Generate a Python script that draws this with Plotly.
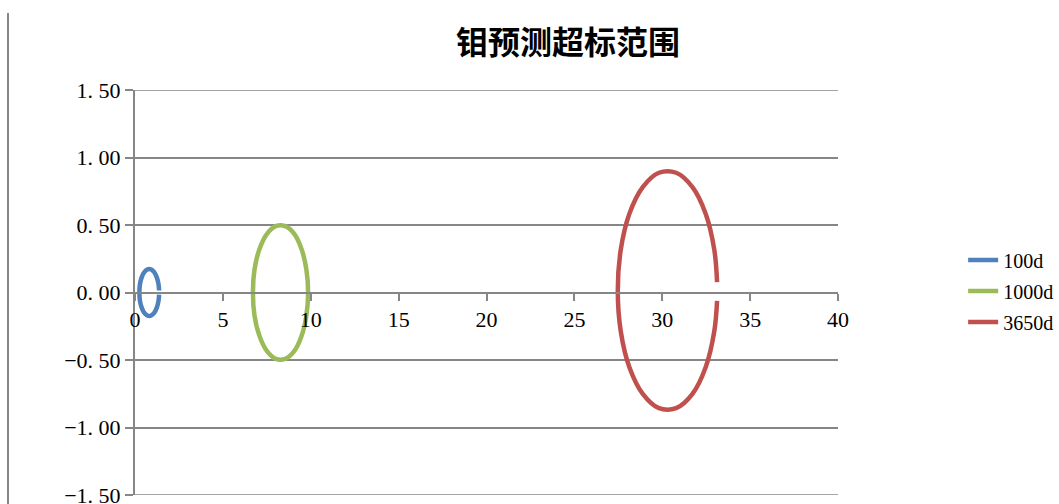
import plotly.graph_objects as go

# Outline points of each exceedance zone (distance, offset)
x_100d = [1.37, 1.34, 1.24, 1.09, 0.91, 0.71, 0.53, 0.38, 0.28, 0.25,
          0.28, 0.38, 0.53, 0.71, 0.91, 1.09, 1.24, 1.34, 1.37]
y_100d = [0.015, 0.060, 0.112, 0.151, 0.171, 0.171, 0.151, 0.112, 0.060, 0.0,
          -0.060, -0.112, -0.151, -0.171, -0.171, -0.151, -0.112, -0.060, -0.015]

x_1000d = [9.85, 9.75, 9.48, 9.07, 8.55, 8.01, 7.50, 7.08, 6.80, 6.71,
           6.80, 7.08, 7.50, 8.01, 8.55, 9.07, 9.48, 9.75, 9.85]
y_1000d = [0.0, 0.171, 0.321, 0.433, 0.492, 0.492, 0.433, 0.321, 0.171, 0.0,
           -0.171, -0.321, -0.433, -0.492, -0.492, -0.433, -0.321, -0.171, 0.0]

x_3650d = [33.12, 32.96, 32.47, 31.72, 30.79, 29.81, 28.89, 28.13, 27.64, 27.47,
           27.64, 28.13, 28.89, 29.81, 30.79, 31.72, 32.47, 32.96, 33.12]
y_3650d = [0.077, 0.318, 0.584, 0.781, 0.887, 0.887, 0.781, 0.584, 0.318, 0.015,
           -0.288, -0.554, -0.751, -0.857, -0.857, -0.751, -0.554, -0.288, -0.062]

series_names = ["100d", "1000d", "3650d"]
series_colors = ["#4F81BD", "#9BBB59", "#C0504D"]

x_ticks = [0, 5, 10, 15, 20, 25, 30, 35, 40]
y_ticks = [-1.5, -1.0, -0.5, 0.0, 0.5, 1.0, 1.5]
y_tick_text = ["\u22121. 50", "\u22121. 00", "\u22120. 50", "0. 00", "0. 50", "1. 00", "1. 50"]

title_text = "钼预测超标范围"

W, H = 1059, 504
L, R, T, B = 135, 221, 90, 9
AXIS_GRAY = "#868686"
TICK_FONT = dict(family="Liberation Serif", size=22, color="#000000")

fig = go.Figure()
for name, color, xs, ys in zip(series_names, series_colors,
                               [x_100d, x_1000d, x_3650d],
                               [y_100d, y_1000d, y_3650d]):
    fig.add_trace(go.Scatter(
        x=xs, y=ys, name=name, mode="lines", legendgroup=name,
        line=dict(color=color, width=4.5, shape="spline", smoothing=1.0),
    ))

fig.update_layout(
    width=W, height=H,
    margin=dict(l=L, r=R, t=T, b=B, autoexpand=False),
    paper_bgcolor="white", plot_bgcolor="white",
    title=dict(text=title_text, x=568 / W, y=1 - 43 / H,
               xref="container", yref="container",
               xanchor="center", yanchor="middle",
               font=dict(family="Noto Sans CJK SC", size=32, color="#000000", weight="bold")),
    legend=dict(x=1.178, y=0.504, xanchor="left", yanchor="middle",
                font=dict(family="Liberation Serif", size=20, color="#000000"),
                tracegroupgap=2,
                bgcolor="rgba(0,0,0,0)", borderwidth=0),
    showlegend=True,
)

fig.update_xaxes(
    range=[0, 40], tickvals=x_ticks, ticktext=[str(v) for v in x_ticks],
    anchor="free", position=0.5,
    showline=True, linecolor=AXIS_GRAY, linewidth=2,
    ticks="outside", ticklen=7, tickwidth=1.5, tickcolor=AXIS_GRAY,
    showgrid=False, zeroline=False, tickfont=TICK_FONT,
)
fig.update_yaxes(
    range=[-1.5, 1.5], tickvals=y_ticks, ticktext=y_tick_text,
    showline=True, linecolor=AXIS_GRAY, linewidth=2,
    ticks="outside", ticklen=8, tickwidth=1.5, tickcolor=AXIS_GRAY,
    showgrid=True, gridcolor=AXIS_GRAY, gridwidth=1.5,
    zeroline=False, tickfont=TICK_FONT, ticklabeloverflow="allow",
)

# gridlines on the range limits
for yv in (y_ticks[0], y_ticks[-1]):
    fig.add_shape(type="line", xref="paper", yref="y", x0=0, x1=1, y0=yv, y1=yv,
                  line=dict(color=AXIS_GRAY, width=1.5), layer="below")

# chart-area border on the left
fig.add_shape(type="line", xref="paper", yref="paper",
              x0=(8 - L) / (W - L - R), x1=(8 - L) / (W - L - R),
              y0=(H - B - 13) / (H - T - B), y1=-0.05,
              line=dict(color=AXIS_GRAY, width=2))

fig.write_html("out.html")
